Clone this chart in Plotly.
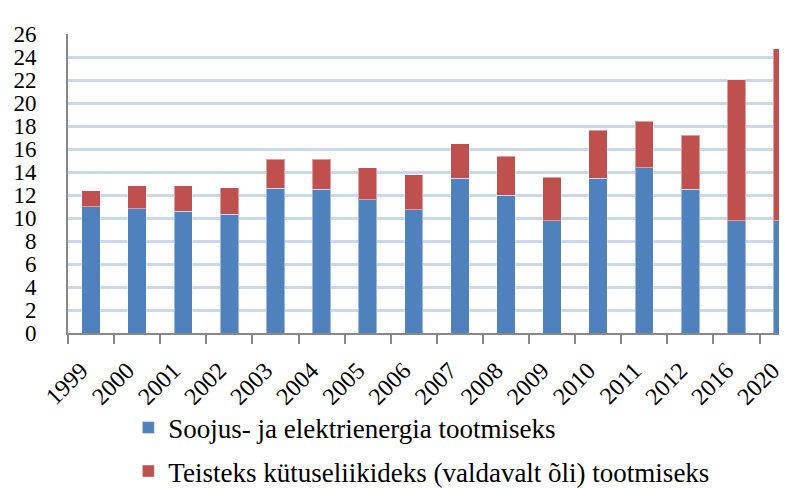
import plotly.graph_objects as go

years = ["1999", "2000", "2001", "2002", "2003", "2004", "2005", "2006",
         "2007", "2008", "2009", "2010", "2011", "2012", "2016", "2020"]
heat_power = [11.0, 10.8, 10.6, 10.33, 12.6, 12.48, 11.6, 10.72,
              13.47, 12.0, 9.76, 13.47, 14.37, 12.48, 9.74, 9.74]
totals = [12.35, 12.8, 12.8, 12.63, 15.13, 15.13, 14.39, 13.75,
          16.47, 15.35, 13.53, 17.62, 18.41, 17.2, 22.03, 24.72]
other_fuels = [round(t - h, 2) for t, h in zip(totals, heat_power)]

name_heat = "Soojus- ja elektrienergia tootmiseks"
name_other = "Teisteks kütuseliikideks (valdavalt õli) tootmiseks"

FONT = "Times New Roman, Liberation Serif, DejaVu Serif, serif"
edge = dict(color="rgba(255,255,255,0.45)", width=1)

fig = go.Figure()
fig.add_trace(go.Bar(x=years, y=heat_power, name=name_heat,
                     marker=dict(color="#4F81BD", line=edge), width=0.4,
                     legend="legend"))
fig.add_trace(go.Bar(x=years, y=other_fuels, name=name_other,
                     marker=dict(color="#C0504D", line=edge), width=0.4,
                     legend="legend2"))

fig.update_layout(
    width=787, height=488,
    barmode="stack",
    plot_bgcolor="white", paper_bgcolor="white",
    margin=dict(l=60, r=0, t=26, b=153),
    font=dict(family=FONT, color="black"),
    showlegend=True,
    legend=dict(x=0.083, y=-0.236, xanchor="left", yanchor="top",
                font=dict(size=27, family=FONT, color="black"),
                bgcolor="rgba(0,0,0,0)"),
    legend2=dict(x=0.083, y=-0.382, xanchor="left", yanchor="top",
                 font=dict(size=27, family=FONT, color="black"),
                 bgcolor="rgba(0,0,0,0)"),
)

fig.update_yaxes(
    range=[0, 26], dtick=2, tick0=0,
    showgrid=True, gridcolor="#CAD7EE", gridwidth=3,
    zeroline=False,
    showline=True, linecolor="#888888", linewidth=2,
    ticks="outside", ticklen=25, tickcolor="rgba(0,0,0,0)",
    tickfont=dict(size=23, family=FONT, color="black"),
)
fig.update_xaxes(
    type="category", range=[-0.5, 15.27],
    showgrid=False, zeroline=False,
    showline=True, linecolor="#888888", linewidth=2,
    tickson="boundaries", ticks="outside", ticklen=9,
    tickcolor="#888888", tickwidth=2,
    tickangle=-45,
    ticklabelshift=-10, ticklabelstandoff=12,
    tickfont=dict(size=24, family=FONT, color="black"),
)

fig.write_html("out.html")
